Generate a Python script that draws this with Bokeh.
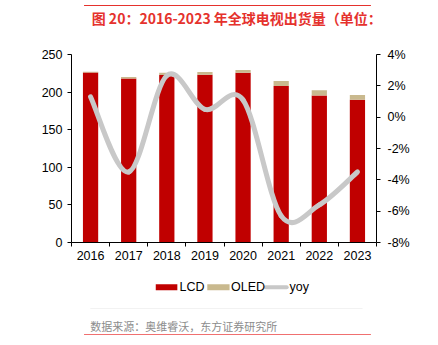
from bokeh.plotting import figure
from bokeh.layouts import column
from bokeh.core.properties import value
from bokeh.models import (Range1d, LinearAxis, FixedTicker, CustomJSTickFormatter,
                          PrintfTickFormatter, ColumnDataSource)
from bokeh.embed import file_html
from bokeh.resources import INLINE

years = ["2016", "2017", "2018", "2019", "2020", "2021", "2022", "2023"]
lcd = [226, 218, 222.7, 223, 225.7, 208, 195.6, 189.8]
oled = [1, 2, 3, 3.6, 3.6, 6.6, 7, 6.2]
yoy = [1.3, -3.5, 2.65, 0.5, 1.1, -6.3, -5.6, -3.5]
left_ticks = [0, 50, 100, 150, 200, 250]
right_ticks = [-8, -6, -4, -2, 0, 2, 4]
series_names = ["LCD", "OLED", "yoy"]

title_text = "图 20：2016-2023 年全球电视出货量（单位：百万台）"
source_text = "数据来源：奥维睿沃，东方证券研究所"

RED = "#C00000"
TAN = "#C9B98E"
GRAY = "#C8C8C8"
TITLE_RED = "#E5322D"
FONT = "Liberation Sans"
CJK = "Noto Sans CJK SC"

W = 438
HEAD_H, MAIN_H, FOOT_H = 40, 232, 73


def blank(h):
    f = figure(width=W, height=h, output_backend="svg", toolbar_location=None,
               x_range=Range1d(0, W), y_range=Range1d(h, 0),
               x_axis_type=None, y_axis_type=None, min_border=0,
               outline_line_color=None, background_fill_color="white",
               border_fill_color="white")
    f.xgrid.visible = False
    f.ygrid.visible = False
    return f


# ---------- header ----------
head = blank(HEAD_H)
head.segment(x0=[18], y0=[5], x1=[430], y1=[5], line_color=TITLE_RED, line_width=1)
head.text(x=[29], y=[17], text=[title_text], text_font=value(CJK), text_font_size="14px",
          text_font_style="bold", text_color=TITLE_RED, text_baseline="middle")

# ---------- main chart ----------
n = len(years)
xs = [i + 0.5 for i in range(n)]

p = figure(width=W, height=MAIN_H, output_backend="svg", toolbar_location=None,
           x_range=Range1d(0, n), y_range=Range1d(0, 250),
           min_border_left=71, min_border_right=62, min_border_top=14, min_border_bottom=30,
           outline_line_color=None, background_fill_color="white", border_fill_color="white")
p.xgrid.visible = False
p.ygrid.visible = False
p.extra_y_ranges = {"yoy": Range1d(-8, 4)}

src = ColumnDataSource(dict(x=xs, lcd=lcd, oled=oled))
p.vbar_stack(["lcd", "oled"], x="x", width=0.4, color=[RED, TAN], source=src,
             line_color=None)

# smooth yoy line: bezier segments with Catmull-Rom style control points
x0s, y0s, x1s, y1s, cx0s, cy0s, cx1s, cy1s = [], [], [], [], [], [], [], []
for i in range(n - 1):
    a = i - 1 if i > 0 else i
    d = i + 2 if i + 2 < n else i + 1
    x0s.append(xs[i]); y0s.append(yoy[i])
    x1s.append(xs[i + 1]); y1s.append(yoy[i + 1])
    cx0s.append(xs[i] + (xs[i + 1] - xs[a]) / 6)
    cy0s.append(yoy[i] + (yoy[i + 1] - yoy[a]) / 6)
    cx1s.append(xs[i + 1] - (xs[d] - xs[i]) / 6)
    cy1s.append(yoy[i + 1] - (yoy[d] - yoy[i]) / 6)
p.bezier(x0=x0s, y0=y0s, x1=x1s, y1=y1s, cx0=cx0s, cy0=cy0s, cx1=cx1s, cy1=cy1s,
         y_range_name="yoy", line_color=GRAY, line_width=5, line_cap="round")


def style(ax):
    ax.axis_line_color = "black"
    ax.axis_line_width = 1
    ax.major_tick_line_color = "black"
    ax.minor_tick_line_color = "black"
    ax.major_tick_in = 0
    ax.major_tick_out = 4
    ax.minor_tick_in = 0
    ax.minor_tick_out = 0
    ax.major_label_text_font = FONT
    ax.major_label_text_font_size = "12.5px"
    ax.major_label_text_color = "black"


xa = p.xaxis[0]
style(xa)
xa.ticker = FixedTicker(ticks=xs, minor_ticks=list(range(n + 1)))
xa.formatter = CustomJSTickFormatter(args=dict(labels=years),
                                     code="return labels[Math.floor(tick)];")
xa.major_tick_out = 0
xa.minor_tick_out = 4
xa.major_label_standoff = 4

ya = p.yaxis[0]
style(ya)
ya.ticker = FixedTicker(ticks=left_ticks)
ya.major_label_standoff = 5

ra = LinearAxis(y_range_name="yoy", ticker=FixedTicker(ticks=right_ticks),
                formatter=PrintfTickFormatter(format="%d%%"))
style(ra)
ra.major_label_standoff = 7
p.add_layout(ra, "right")

# ---------- footer: legend key + source ----------
foot = blank(FOOT_H)
LY = 14.7  # legend row centre within the footer
foot.quad(left=[121, 195], right=[152, 227], top=[LY - 3, LY - 3], bottom=[LY + 3, LY + 3],
          fill_color=[RED, TAN], line_color=None)
foot.segment(x0=[279], y0=[LY], x1=[309], y1=[LY], line_color=GRAY, line_width=4,
             line_cap="round")
foot.text(x=[155, 229, 313], y=[LY, LY, LY], text=series_names, text_font=value(FONT),
          text_font_size="12.5px", text_color="black", text_baseline="middle")
foot.segment(x0=[27], y0=[36], x1=[418], y1=[36], line_color="#F2F2F2", line_width=1)
foot.text(x=[27], y=[53], text=[source_text], text_font=value(CJK), text_font_size="11px",
          text_color="#8C8C8C", text_baseline="middle")
foot.segment(x0=[18], y0=[62], x1=[430], y1=[62], line_color="#F07070", line_width=1)

layout = column(head, p, foot, spacing=0)
open("out.html", "w").write(file_html(layout, INLINE))
